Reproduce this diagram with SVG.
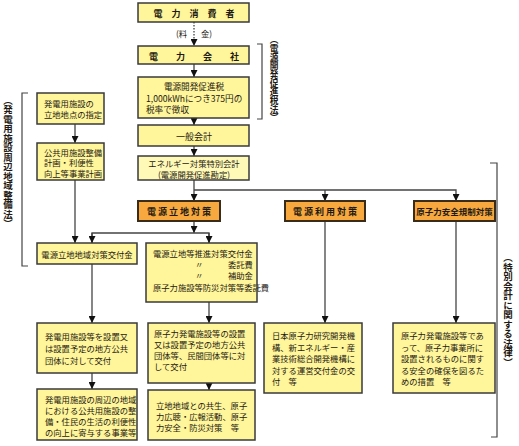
<svg xmlns="http://www.w3.org/2000/svg" width="519" height="446" viewBox="0 0 519 446">
<style>
text{font-family:"Noto Sans CJK JP","Noto Sans",sans-serif;fill:#1e1a12;font-size:8.3px;dominant-baseline:central}
.b{fill:#FFF59A;stroke:#3a3a3a;stroke-width:1.5}
.bl{fill:#FFF9B8;stroke:#3a3a3a;stroke-width:1.5}
.o{fill:#F7A83E;stroke:#3a2c18;stroke-width:2}
.c{text-anchor:middle}
.t{font-size:9px;font-weight:bold}
.ln{fill:none;stroke:#444;stroke-width:1.3}
.br{fill:none;stroke:#444;stroke-width:1.2}
.v{writing-mode:vertical-rl;text-anchor:middle;font-weight:bold;font-size:9.5px}
</style>
<defs>
<marker id="ah" viewBox="0 0 10 10" refX="10" refY="5" markerWidth="7" markerHeight="7" markerUnits="userSpaceOnUse" orient="auto"><path d="M0,0 L10,5 L0,10 z" fill="#111"/></marker>
</defs>

<g id="connectors">
<line class="ln" x1="194" y1="22" x2="194" y2="46" stroke-dasharray="1.5 1.5" marker-end="url(#ah)"/>
<line class="ln" x1="194" y1="64" x2="194" y2="77" marker-end="url(#ah)"/>
<line class="ln" x1="194" y1="118" x2="194" y2="125" marker-end="url(#ah)"/>
<line class="ln" x1="194" y1="146" x2="194" y2="156" marker-end="url(#ah)"/>
<line class="ln" x1="194" y1="180" x2="194" y2="201" marker-end="url(#ah)"/>
<polyline class="ln" points="194,190 456,190 456,201" marker-end="url(#ah)"/>
<line class="ln" x1="325" y1="190" x2="325" y2="201" marker-end="url(#ah)"/>
<line class="ln" x1="194" y1="221" x2="194" y2="233" marker-end="url(#ah)"/>
<polyline class="ln" points="92,243 92,233 209,233 209,243" />
<line class="ln" x1="92" y1="233" x2="92" y2="243" marker-end="url(#ah)"/>
<line class="ln" x1="209" y1="233" x2="209" y2="243" marker-end="url(#ah)"/>
<line class="ln" x1="75" y1="124" x2="75" y2="143" marker-end="url(#ah)"/>
<line class="ln" x1="75" y1="180" x2="75" y2="243" marker-end="url(#ah)"/>
<line class="ln" x1="92" y1="264" x2="92" y2="323" marker-end="url(#ah)"/>
<line class="ln" x1="92" y1="373" x2="92" y2="389" marker-end="url(#ah)"/>
<line class="ln" x1="209" y1="302" x2="209" y2="323" marker-end="url(#ah)"/>
<line class="ln" x1="209" y1="383" x2="209" y2="390" marker-end="url(#ah)"/>
<line class="ln" x1="325" y1="221" x2="325" y2="323" marker-end="url(#ah)"/>
<line class="ln" x1="456" y1="221" x2="456" y2="323" marker-end="url(#ah)"/>
</g>

<g id="brackets">
<path class="br" d="M28,93 H22 V266 H28"/>
<path class="br" d="M257,44 H262 V119 H257"/>
<path class="br" d="M490,163 H497 V437 H491"/>
<text class="v" x="8" y="162">（発電用施設周辺地域整備法）</text>
<text class="v" x="274" y="79" style="font-size:8.7px">（電源開発促進税法）</text>
<text class="v" x="508" y="310">（特別会計に関する法律）</text>
</g>

<g id="n1"><rect class="b" x="138" y="3" width="111" height="19"/><text class="c t" x="194" y="13">電　力　消　費　者</text></g>
<g id="fee"><text x="176" y="33">(料</text><text x="201" y="33">金)</text></g>
<g id="n2"><rect class="b" x="138" y="46" width="111" height="18"/><text class="c t" x="194" y="56">電　　力　　会　　社</text></g>
<g id="n3"><rect class="b" x="138" y="77" width="111" height="41"/>
<text class="c" x="194" y="86" style="font-size:8.6px">電源開発促進税</text>
<text x="146" y="97.5" style="font-size:8.6px">1,000kWhにつき375円の</text>
<text x="146" y="109" style="font-size:8.6px">税率で徴収</text></g>
<g id="n4"><rect class="b" x="138" y="125" width="111" height="21"/><text class="c" x="194" y="136" style="font-size:9px">一般会計</text></g>
<g id="n5"><rect class="bl" x="138" y="156" width="111" height="24"/>
<text class="c" x="194" y="163">エネルギー対策特別会計</text>
<text class="c" x="194" y="174">(電源開発促進勘定)</text></g>

<g id="o1"><rect class="o" x="138" y="201" width="82" height="20"/><text class="c t" x="179" y="211">電 源 立 地 対 策</text></g>
<g id="o2"><rect class="o" x="285" y="201" width="80" height="20"/><text class="c t" x="325" y="211">電 源 利 用 対 策</text></g>
<g id="o3"><rect class="o" x="414" y="201" width="81" height="20"/><text class="c t" x="454.5" y="211" style="font-size:8.5px">原子力安全規制対策</text></g>

<g id="l1"><rect class="b" x="37" y="93" width="67" height="31"/>
<text x="44" y="103">発電用施設の</text><text x="44" y="114">立地地点の指定</text></g>
<g id="l2"><rect class="b" x="37" y="143" width="67" height="37"/>
<text x="44" y="151.5">公共用施設整備</text><text x="44" y="162">計画・利便性</text><text x="44" y="172.5">向上等事業計画</text></g>
<g id="l3"><rect class="b" x="37" y="243" width="100" height="21"/>
<text class="c" x="87" y="254">電源立地地域対策交付金</text></g>
<g id="l4"><rect class="b" x="37" y="323" width="100" height="50"/>
<text x="45" y="336">発電用施設等を設置又</text><text x="45" y="348">は設置予定の地方公共</text><text x="45" y="360">団体に対して交付</text></g>
<g id="l5"><rect class="b" x="37" y="389" width="100" height="51"/>
<text x="45" y="399">発電用施設の周辺の地域</text><text x="45" y="410">における公共用施設の整</text><text x="45" y="421">備・住民の生活の利便性</text><text x="45" y="432">の向上に寄与する事業等</text></g>

<g id="m1"><rect class="b" x="146" y="243" width="111" height="59"/>
<text x="153" y="253">電源立地等推進対策交付金</text>
<text x="195" y="264">〃</text><text x="228" y="264">委託費</text>
<text x="195" y="275">〃</text><text x="228" y="275">補助金</text>
<text x="153" y="287">原子力施設等防災対策等委託費</text></g>
<g id="m2"><rect class="b" x="148" y="323" width="107" height="60"/>
<text x="154" y="333">原子力発電施設等の設置</text><text x="154" y="344">又は設置予定の地方公共</text><text x="154" y="355">団体等、民間団体等に対</text><text x="154" y="366">して交付</text></g>
<g id="m3"><rect class="b" x="148" y="390" width="107" height="50"/>
<text x="156" y="405">立地地域との共生、原子</text><text x="156" y="416">力広聴・広報活動、原子</text><text x="156" y="427">力安全・防災対策　等</text></g>

<g id="r1"><rect class="b" x="264" y="323" width="98" height="70"/>
<text x="272" y="335">日本原子力研究開発機</text><text x="272" y="346.5">構、新エネルギー・産</text><text x="272" y="358">業技術総合開発機構に</text><text x="272" y="369.5">対する運営交付金の交</text><text x="272" y="381">付　等</text></g>
<g id="r2"><rect class="b" x="393" y="323" width="102" height="70"/>
<text x="401" y="335">原子力発電施設等であ</text><text x="401" y="346.5">って、原子力事業所に</text><text x="401" y="358">設置されるものに関す</text><text x="401" y="369.5">る安全の確保を図るた</text><text x="401" y="381">めの措置　等</text></g>
</svg>
